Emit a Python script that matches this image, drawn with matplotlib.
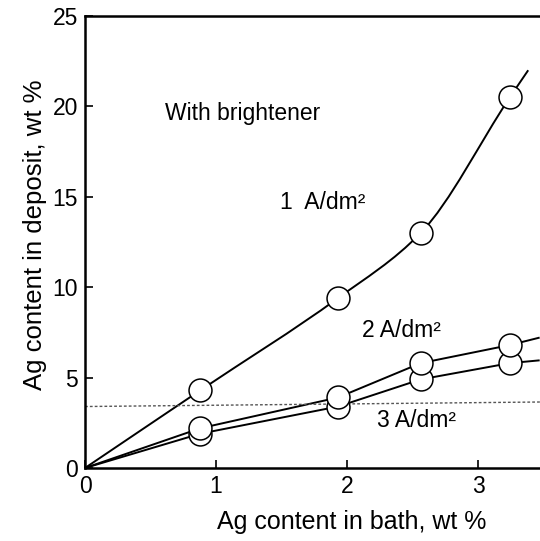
import numpy as np
import matplotlib
matplotlib.use("Agg")
import matplotlib.pyplot as plt
from matplotlib.path import Path
from matplotlib.patches import PathPatch

plt.rcParams['font.family'] = ['Liberation Sans', 'DejaVu Sans']

### DATA ###

# measured points (bath Ag wt %, deposit Ag wt %)
x_pts = [0.88, 1.93, 2.56, 3.24]
y_1A = [4.3, 9.4, 13.0, 20.5]
y_2A = [2.2, 3.9, 5.8, 6.8]
y_3A = [1.9, 3.4, 4.9, 5.8]

# curves start at origin and run a little past the last point
x_1A_line = [0, 0.88, 1.93, 2.56, 3.24, 3.38]
y_1A_line = [0, 4.3, 9.4, 13.0, 20.5, 22.0]
x_2A_line = [0, 0.88, 1.93, 2.56, 3.24, 3.46]
y_2A_line = [0, 2.2, 3.9, 5.8, 6.8, 7.2]
x_3A_line = [0, 0.88, 1.93, 2.56, 3.24, 3.46]
y_3A_line = [0, 1.9, 3.4, 4.9, 5.8, 5.95]

# dotted reference line
ref_x = [0, 3.47]
ref_y = [3.4, 3.65]

x_ticks = [0, 1, 2, 3]
y_ticks = [0, 5, 10, 15, 20, 25]


### HELPERS ###

#smooth path through points: pchip-style hermite segments written as bezier
def smooth_path(xs, ys):
    x = np.asarray(xs, float)
    y = np.asarray(ys, float)
    h = np.diff(x)
    s = np.diff(y) / h
    m = np.empty_like(x)
    m[0], m[-1] = s[0], s[-1]
    w1 = 2 * h[1:] + h[:-1]
    w2 = h[1:] + 2 * h[:-1]
    m[1:-1] = (w1 + w2) / (w1 / s[:-1] + w2 / s[1:])
    verts = [(x[0], y[0])]
    codes = [Path.MOVETO]
    for i in range(len(h)):
        d = h[i] / 3
        verts += [(x[i] + d, y[i] + d * m[i]),
                  (x[i + 1] - d, y[i + 1] - d * m[i + 1]),
                  (x[i + 1], y[i + 1])]
        codes += [Path.CURVE4] * 3
    return Path(verts, codes)


### PLOT ###

fig = plt.figure(figsize=(5.4, 5.41), dpi=100)
ax = fig.add_axes([85 / 540, 73 / 541, 455 / 540, 452 / 541])

ax.set_xlim(0, 3.47)
ax.set_ylim(0, 25)

#curves
ax.add_patch(PathPatch(smooth_path(x_1A_line, y_1A_line), fc='none', ec='black', lw=1.4))
ax.plot(x_2A_line, y_2A_line, color='black', lw=1.4)
ax.plot(x_3A_line, y_3A_line, color='black', lw=1.4)

ax.plot(ref_x, ref_y, color='#555555', lw=1.0, ls=(0, (2, 1.5)))

#circles
for ys in (y_3A, y_2A, y_1A):
    ax.plot(x_pts, ys, 'o', mfc='white', mec='black', ms=16.5, mew=1.1, zorder=3)

#labels
ax.text(0.61, 19.6, 'With brightener', fontsize=16.5, va='center', ha='left')
ax.text(1.49, 14.7, '1  A/dm²', fontsize=16.5, va='center', ha='left')
ax.text(2.11, 7.6, '2 A/dm²', fontsize=16.5, va='center', ha='left')
ax.text(2.23, 2.65, '3 A/dm²', fontsize=16.5, va='center', ha='left')

ax.set_xticks(x_ticks)
ax.set_yticks(y_ticks)
ax.tick_params(direction='in', length=6, width=1.2, labelsize=16.5, pad=5)

for s in ['left', 'bottom', 'top']:
    ax.spines[s].set_linewidth(1.8)
ax.spines['right'].set_visible(False)

ax.set_xlabel('Ag content in bath, wt %', fontsize=18)
ax.set_ylabel('Ag content in deposit, wt %', fontsize=18.5)
ax.xaxis.set_label_coords(0.587, -0.094)
ax.yaxis.set_label_coords(-0.084, 0.515)

fig.savefig('out.png', dpi=100)
